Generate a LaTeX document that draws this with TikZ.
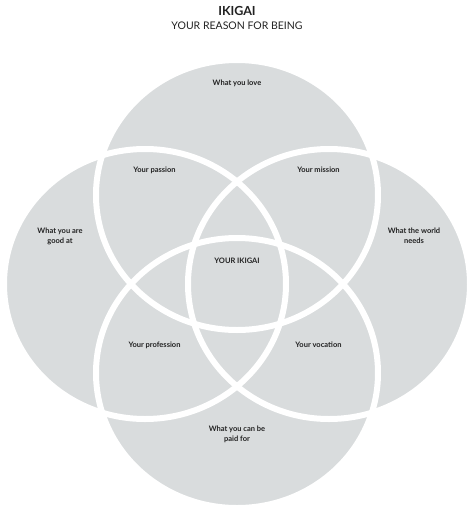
\documentclass[tikz,border=0pt]{standalone}
\usepackage{fontspec}
\setmainfont{Lato}
\definecolor{ringgray}{HTML}{D9DCDD}
\definecolor{inkdark}{HTML}{222222}
\begin{document}
\begin{tikzpicture}[x=1pt, y=-1pt,
        region/.style={font=\bfseries\fontsize{7.5}{10}\selectfont, text=inkdark, align=center, inner sep=0pt}]
                \useasboundingbox (0,0) rectangle (474,520);
                % Circle fills
                \foreach \cx/\cy in {237/195, 237/373, 145/284, 329/284}
                    \fill[ringgray] (\cx,\cy) ellipse [x radius=141pt, y radius=135pt];
                % White outlines
                \foreach \cx/\cy in {237/195, 237/373, 145/284, 329/284}
                    \draw[white, line width=6pt] (\cx,\cy) ellipse [x radius=141pt, y radius=135pt];
                % Title
                \node[font=\bfseries\fontsize{12.5}{15}\selectfont, text=inkdark, inner sep=0pt] (title) at (237,10.5) {IKIGAI};
                \node[font=\fontsize{10.5}{13}\selectfont, text=inkdark, inner sep=0pt] (subtitle) at (237,25.5) {YOUR REASON FOR BEING};
                % Region labels
                \node[region, anchor=base] (love) at (237,85) {What you love};
                \node[region, anchor=base] (passion) at (154.5,172) {Your passion};
                \node[region, anchor=base] (mission) at (318.5,172) {Your mission};
                \node[region] (good) at (60,236) {What you are\\good at};
                \node[region] (needs) at (414,236) {What the world\\needs};
                \node[region, anchor=base] (ikigai) at (237,263.7) {YOUR IKIGAI};
                \node[region, anchor=base] (profession) at (154.5,347) {Your profession};
                \node[region, anchor=base] (vocation) at (318.5,347) {Your vocation};
                \node[region] (paid) at (237,434) {What you can be\\paid for};
            \end{tikzpicture}
\end{document}
